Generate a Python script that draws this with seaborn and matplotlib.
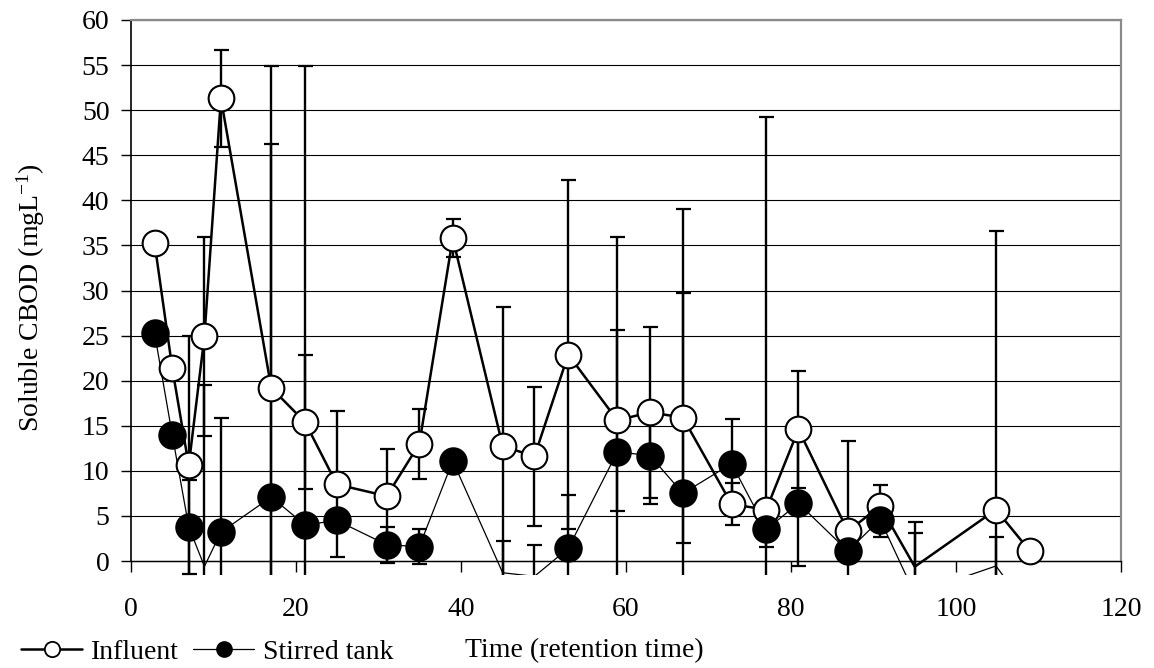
import numpy as np
import pandas as pd
import matplotlib
matplotlib.use("Agg")
import matplotlib.pyplot as plt
import seaborn as sns
from matplotlib.lines import Line2D

# ---------------- data ----------------
time = [2.85, 5.0, 7.0, 8.9, 10.9, 17.0, 21.1, 24.95, 31.0, 34.95, 39.0, 45.05,
        48.9, 53.0, 58.95, 62.9, 66.9, 72.8, 77.0, 80.9, 86.9, 90.8, 95.0, 104.85, 108.97]
influent = [35.3, 21.4, 10.6, 24.9, 51.3, 19.2, 15.4, 8.5, 7.2, 13.0, 35.8, 12.75,
            11.6, 22.9, 15.6, 16.5, 15.9, 6.3, 5.7, 14.6, 3.3, 6.1, -0.63, 5.7, 1.1]
influent_err = [0, 0, 14.3, 11.0, 5.4, 27.1, 7.4, 8.1, 5.2, 3.9, 2.1, 15.45,
                7.7, 19.4, 10.0, 9.5, 13.85, 2.3, 43.5, 6.5, 10.0, 2.3, 5.0, 30.9, 0]
stirred = [25.3, 14.0, 3.8, -0.6, 3.2, 7.1, 4.0, 4.5, 1.8, 1.6, 11.1, -1.3,
           -1.7, 1.4, 12.1, 11.7, 7.5, 10.8, 3.5, 6.4, 1.1, 4.6, -3.65, -0.55, -5.7]
stirred_err = [0, 0, 5.2, 20.1, 12.7, 47.8, 50.9, 0, 2.0, 1.9, 0, 3.55,
               3.5, 5.9, 23.8, 5.4, 31.5, 4.9, 2.0, 7.0, 0, 1.9, 6.8, 3.2, 0]
series_names = ["Influent", "Stirred tank"]
x_ticks = [0, 20, 40, 60, 80, 100, 120]
y_ticks = list(range(0, 61, 5))
x_label = "Time (retention time)"
y_label = "Soluble CBOD (mgL$^{-1}$)"

# ---------------- style ----------------
sns.set_theme(style="white")
plt.rcParams["font.family"] = ["Liberation Serif", "DejaVu Serif"]
plt.rcParams["mathtext.fontset"] = "custom"
plt.rcParams["mathtext.rm"] = "Liberation Serif"
plt.rcParams["mathtext.it"] = "Liberation Serif:italic"
plt.rcParams["mathtext.default"] = "regular"

FS = 20

df = pd.DataFrame({"time": time,
                   series_names[0]: influent, "ie": influent_err,
                   series_names[1]: stirred, "se": stirred_err})

fig = plt.figure(figsize=(11.54, 6.68), dpi=100)
ax = fig.add_axes([131 / 1154, 1 - 575 / 668, 990 / 1154, 555 / 668])

# lines
sns.lineplot(data=df, x="time", y=series_names[0], ax=ax, color="black",
             lw=1.8, sort=False, estimator=None, zorder=2, legend=False)
sns.lineplot(data=df, x="time", y=series_names[1], ax=ax, color="black",
             lw=0.9, sort=False, estimator=None, zorder=2, legend=False)

# error bars
for col, ecol in [(series_names[0], "ie"), (series_names[1], "se")]:
    sub = df[df[ecol] > 0]
    ax.errorbar(sub["time"], sub[col], yerr=sub[ecol], fmt="none", ecolor="black",
                elinewidth=1.7, capsize=5.4, capthick=1.6, zorder=3)

# markers (only points inside the value range are shown)
pos_i = df[df[series_names[0]] >= 0]
pos_s = df[df[series_names[1]] >= 0]
sns.scatterplot(data=pos_i, x="time", y=series_names[0], ax=ax, marker="o",
                s=18.5 ** 2, color="white", edgecolor="black", linewidth=1.5,
                zorder=4, legend=False)
sns.scatterplot(data=pos_s, x="time", y=series_names[1], ax=ax, marker="o",
                s=19.5 ** 2, color="black", edgecolor="black", linewidth=1.0,
                zorder=5, legend=False)

# axes
ax.set_xlim(0, 120)
ax.set_ylim(-1.55, 60)
ax.set_xticks(x_ticks)
ax.set_yticks(y_ticks)
ax.yaxis.grid(True, color="black", lw=0.8)
ax.xaxis.grid(False)
ax.set_axisbelow(True)

ax.spines["bottom"].set_position(("data", 0))
ax.spines["bottom"].set_color("black")
ax.spines["bottom"].set_linewidth(1.0)
ax.spines["left"].set_color("black")
ax.spines["left"].set_linewidth(1.2)
ax.spines["left"].set_bounds(0, 60)
ax.spines["right"].set_bounds(0, 60)
for s in ["top", "right"]:
    ax.spines[s].set_color("#8a8a8a")
    ax.spines[s].set_linewidth(1.6)

ax.tick_params(axis="x", bottom=True, direction="out", length=8, width=1,
               color="black", pad=18, labelsize=FS, labelcolor="black")
ax.tick_params(axis="y", left=True, direction="out", length=7.5, width=1,
               color="black", pad=8, labelsize=FS, labelcolor="black")

ax.set_xlabel(x_label, fontsize=FS, color="black")
ax.xaxis.set_label_coords((584 - 131) / 990, (575 - 638) / 555)
ax.set_ylabel(y_label, fontsize=FS, color="black")
ax.yaxis.set_label_coords((47 - 131) / 990, 0.5)

# legend
handles = [
    Line2D([], [], color="black", lw=1.8, marker="o", markersize=11,
           markerfacecolor="white", markeredgecolor="black", markeredgewidth=1.3),
    Line2D([], [], color="black", lw=0.9, marker="o", markersize=11,
           markerfacecolor="black", markeredgecolor="black"),
]
leg = ax.legend(handles, series_names, loc="center left",
                bbox_to_anchor=(21 / 1154, 1 - 652 / 668),
                bbox_transform=fig.transFigure, ncol=2, frameon=False,
                fontsize=FS, handlelength=2.2, handletextpad=0.33,
                columnspacing=0.5, borderpad=0, borderaxespad=0)
for t in leg.get_texts():
    t.set_color("black")

fig.savefig("out.png", dpi=100)
